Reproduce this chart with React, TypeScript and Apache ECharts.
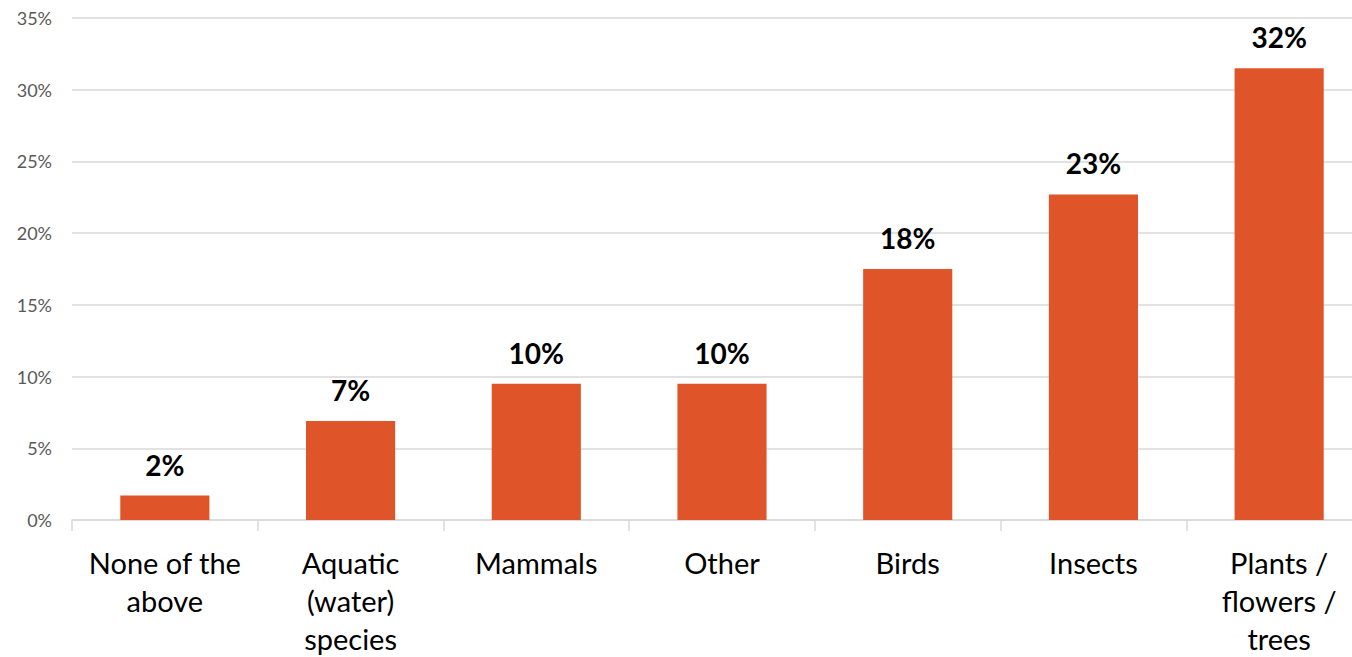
import React, { useEffect, useRef } from "react";
import * as echarts from "echarts";

const categories = [
  "None of the\nabove",
  "Aquatic\n(water)\nspecies",
  "Mammals",
  "Other",
  "Birds",
  "Insects",
  "Plants /\nflowers /\ntrees",
];
const values = [1.7, 6.9, 9.5, 9.5, 17.5, 22.7, 31.5];
const yTicks = { min: 0, max: 35, interval: 5 };

export default function App() {
  const ref = useRef<HTMLDivElement>(null);
  useEffect(() => {
    const chart = echarts.init(ref.current!, undefined, { renderer: "svg" });
    chart.setOption({
      animation: false,
      grid: { left: 72, right: 0, top: 18, bottom: 137, outerBoundsMode: "none", containLabel: false },
      xAxis: {
        type: "category",
        data: categories,
        axisLine: { lineStyle: { color: "#d9d9d9", width: 1.5 } },
        axisTick: { show: true, length: 11, lineStyle: { color: "#d9d9d9", width: 1.5 } },
        axisLabel: {
          color: "#000",
          fontSize: 29,
          fontFamily: "Lato",
          lineHeight: 38,
          margin: 23,
          interval: 0,
        },
      },
      yAxis: {
        type: "value",
        min: yTicks.min,
        max: yTicks.max,
        interval: yTicks.interval,
        axisLine: { show: false },
        axisTick: { show: false },
        splitLine: { lineStyle: { color: "#d9d9d9", width: 1.5 } },
        axisLabel: {
          formatter: "{value}%",
          color: "#595959",
          fontSize: 18,
          fontFamily: "Lato",
          margin: 20,
        },
      },
      series: [
        {
          type: "bar",
          data: values,
          barWidth: "48%",
          itemStyle: { color: "#E05429" },
          label: {
            show: true,
            position: "top",
            distance: 17,
            color: "#000",
            fontWeight: "bold",
            fontSize: 28,
            fontFamily: "Lato",
            formatter: (p: any) => Math.round(p.value) + "%",
          },
        },
      ],
    });
    return () => chart.dispose();
  }, []);
  return (
    <div style={{ position: "fixed", left: 0, top: 0, width: 1352, height: 657, overflow: "hidden", background: "#fff" }}>
      <div ref={ref} style={{ width: 1372, height: 657 }} />
    </div>
  );
}
